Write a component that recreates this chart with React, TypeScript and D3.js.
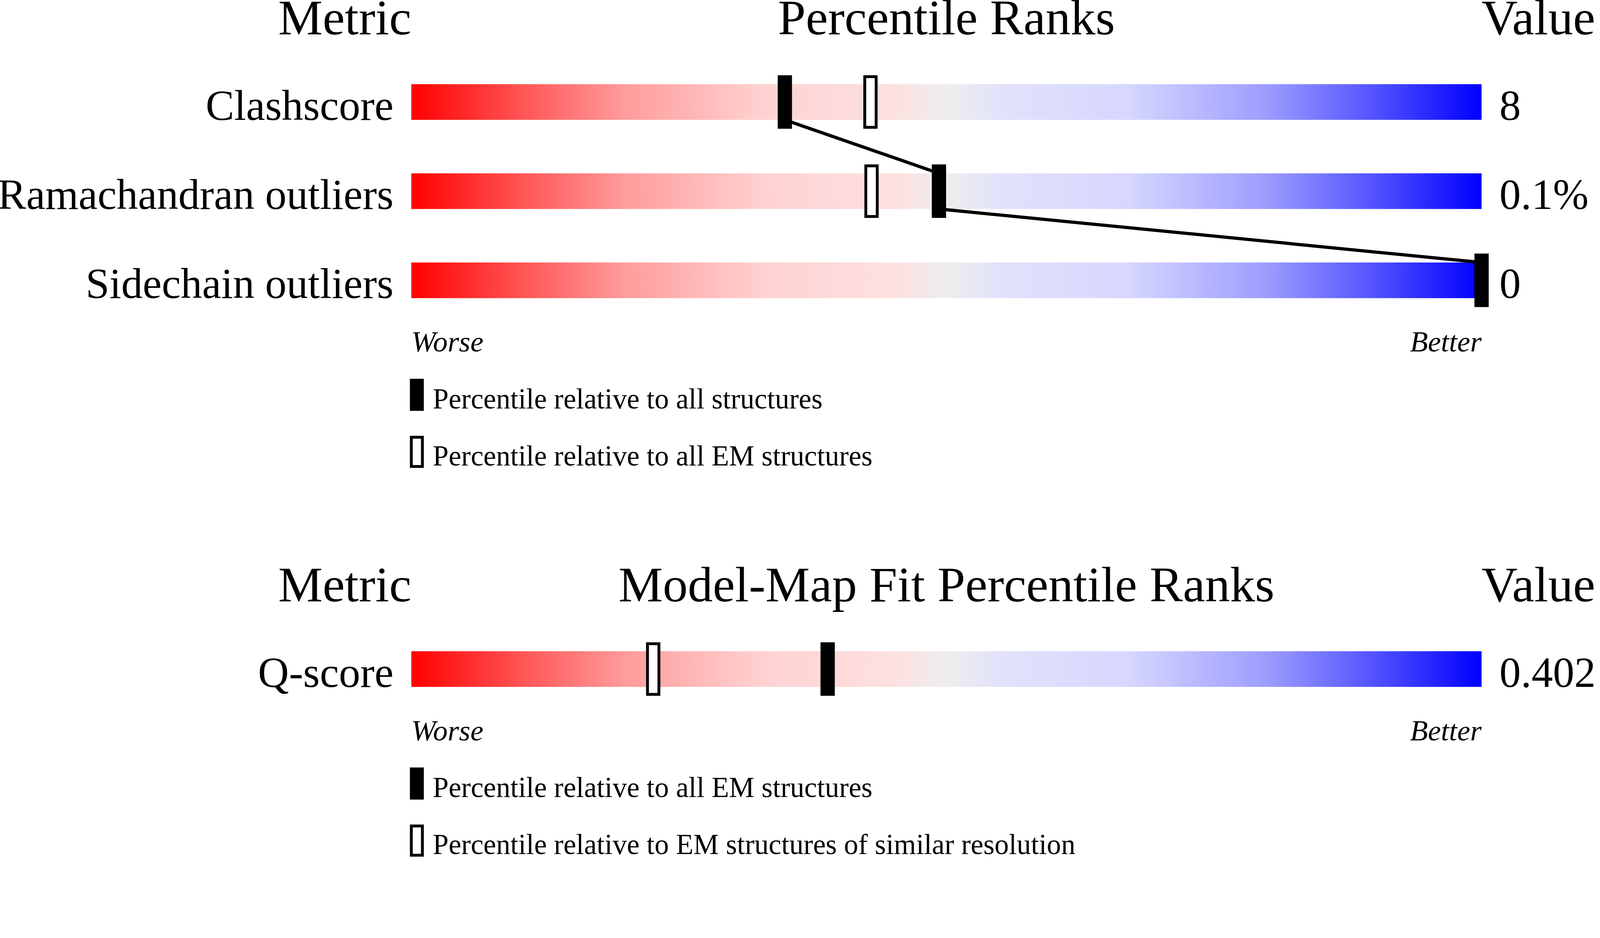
import React, { useRef, useEffect } from 'react';
import * as d3 from 'd3';

// Validation metrics panel
const metricNames = ['Clashscore', 'Ramachandran outliers', 'Sidechain outliers'];
const metricValues = ['8', '0.1%', '0'];
const metricAllPct = [34.9, 49.3, 100];
const metricEmPct: (number | null)[] = [42.9, 43.0, null];
const metricLegend = ['Percentile relative to all structures', 'Percentile relative to all EM structures'];

// Model-map fit panel
const fitNames = ['Q-score'];
const fitValues = ['0.402'];
const fitAllPct = [38.9];
const fitEmPct: (number | null)[] = [22.6];
const fitLegend = ['Percentile relative to all EM structures', 'Percentile relative to EM structures of similar resolution'];

const panelTitles = ['Percentile Ranks', 'Model-Map Fit Percentile Ranks'];

// slider colours, worse (left) to better (right)
const gradientOffsets = [0, 0.1, 0.2, 0.33, 0.45, 0.5, 0.55, 0.67, 0.8, 0.9, 1];
const gradientColors = ['#ff0000', '#ff5252', '#ff9c9c', '#ffd2d2', '#fde0e0', '#eeeeee', '#e2e2fb', '#d6d6ff', '#9c9cff', '#5252ff', '#0000ff'];

const W = 4485;
const H = 2402;
const FONT = "'Liberation Serif', 'Times New Roman', 'DejaVu Serif', serif";

export default function App() {
  const svgRef = useRef<SVGSVGElement>(null);

  useEffect(() => {
    if (!svgRef.current) return;
    document.body.style.margin = '0';
    document.body.style.overflow = 'hidden';
    const svg = d3.select(svgRef.current);
    svg.selectAll('*').remove();

    const barLeft = 1153;
    const barRight = 4153;
    const barH = 100;
    const rowStep = 250;
    const markW = 40;
    const markH = 150;
    const stroke = 8;

    const x = d3.scaleLinear().domain([0, 100]).range([barLeft, barRight]);

    const defs = svg.append('defs');
    const grad = defs.append('linearGradient')
      .attr('id', 'slider')
      .attr('x1', '0%').attr('x2', '100%')
      .attr('y1', '0%').attr('y2', '0%');
    grad.selectAll('stop')
      .data(gradientOffsets)
      .enter().append('stop')
      .attr('offset', d => d)
      .attr('stop-color', (_, i) => gradientColors[i]);

    const drawPanel = (
      top: number,
      title: string,
      names: string[],
      values: string[],
      allPct: number[],
      emPct: (number | null)[],
      legend: string[]
    ) => {
      const g = svg.append('g').attr('font-family', FONT).attr('fill', '#000');
      const firstBar = top + 140;
      const y = d3.scaleLinear().domain([0, 1]).range([firstBar, firstBar + rowStep]);

      // headers
      g.append('text').attr('x', barLeft).attr('y', top).attr('text-anchor', 'end')
        .attr('font-size', 140).text('Metric');
      g.append('text').attr('x', (barLeft + barRight) / 2).attr('y', top).attr('text-anchor', 'middle')
        .attr('font-size', 140).text(title);
      g.append('text').attr('x', barRight).attr('y', top).attr('text-anchor', 'start')
        .attr('font-size', 140).text('Value');

      // slider bars
      g.selectAll('.bar')
        .data(names)
        .enter().append('rect')
        .attr('class', 'bar')
        .attr('x', barLeft)
        .attr('y', (_, i) => y(i))
        .attr('width', barRight - barLeft)
        .attr('height', barH)
        .attr('fill', 'url(#slider)');

      // labels and values
      g.selectAll('.label')
        .data(names)
        .enter().append('text')
        .attr('class', 'label')
        .attr('x', barLeft - 50)
        .attr('y', (_, i) => y(i) + barH)
        .attr('text-anchor', 'end')
        .attr('font-size', 120)
        .text(d => d);

      g.selectAll('.value')
        .data(values)
        .enter().append('text')
        .attr('class', 'value')
        .attr('x', barRight + 50)
        .attr('y', (_, i) => y(i) + barH)
        .attr('font-size', 120)
        .text(d => d);

      // connecting line between filled markers
      const pts: [number, number][] = [];
      allPct.forEach((p, i) => {
        pts.push([x(p), y(i)]);
        pts.push([x(p), y(i) + barH]);
      });
      if (allPct.length > 1) {
        g.append('path')
          .attr('d', d3.line()(pts.slice(1, -1)))
          .attr('fill', 'none')
          .attr('stroke', '#000')
          .attr('stroke-width', 9);
      }

      // open markers
      emPct.forEach((p, i) => {
        if (p === null) return;
        g.append('rect')
          .attr('x', x(p) - markW / 2 + stroke / 2)
          .attr('y', y(i) - (markH - barH) / 2 + stroke / 2)
          .attr('width', markW - stroke)
          .attr('height', markH - stroke)
          .attr('fill', '#fff')
          .attr('stroke', '#000')
          .attr('stroke-width', stroke);
      });

      // filled markers
      g.selectAll('.mark')
        .data(allPct)
        .enter().append('rect')
        .attr('class', 'mark')
        .attr('x', d => x(d) - markW / 2)
        .attr('y', (_, i) => y(i) - (markH - barH) / 2)
        .attr('width', markW)
        .attr('height', markH)
        .attr('fill', '#000');

      // worse / better
      const wb = y(names.length - 1) + barH + 150;
      g.append('text').attr('x', barLeft).attr('y', wb).attr('font-size', 82)
        .attr('font-style', 'italic').text('Worse');
      g.append('text').attr('x', barRight).attr('y', wb).attr('font-size', 82)
        .attr('font-style', 'italic').attr('text-anchor', 'end').text('Better');

      // legend
      const lgTop = wb + 76;
      legend.forEach((txt, i) => {
        const ly = lgTop + i * 160;
        if (i === 0) {
          g.append('rect').attr('x', 1149).attr('y', ly).attr('width', 39).attr('height', 90).attr('fill', '#000');
        } else {
          g.append('rect').attr('x', 1149 + stroke / 2).attr('y', ly + stroke / 2)
            .attr('width', 39 - stroke).attr('height', 90 - stroke)
            .attr('fill', '#fff').attr('stroke', '#000').attr('stroke-width', stroke);
        }
        g.append('text').attr('x', 1213).attr('y', ly + 83).attr('font-size', 80).text(txt);
      });
    };

    drawPanel(96, panelTitles[0], metricNames, metricValues, metricAllPct, metricEmPct, metricLegend);
    drawPanel(1686, panelTitles[1], fitNames, fitValues, fitAllPct, fitEmPct, fitLegend);
  }, []);

  return (
    <svg
      ref={svgRef}
      viewBox={`0 0 ${W} ${H}`}
      preserveAspectRatio="xMinYMin meet"
      style={{ position: 'absolute', left: 0, top: 0, width: '100vw', height: '100vh', display: 'block', background: '#fff' }}
    />
  );
}
